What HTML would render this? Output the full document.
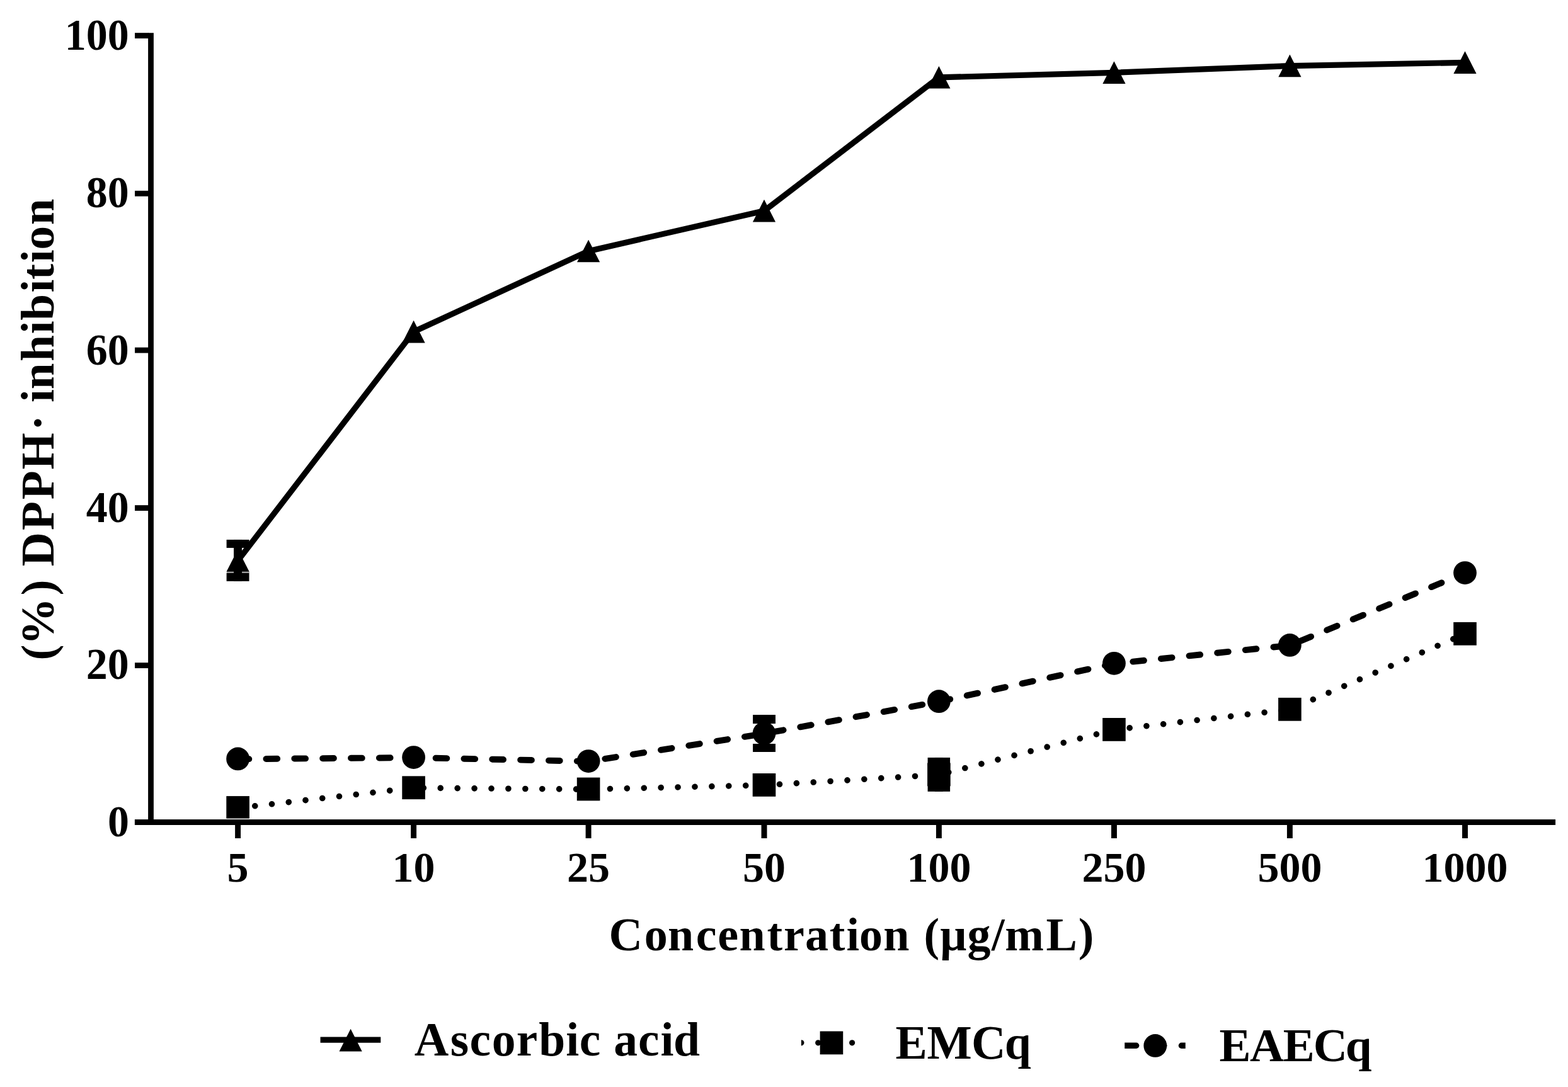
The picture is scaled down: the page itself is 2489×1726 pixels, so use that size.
<!DOCTYPE html>
<html lang="en"><head><meta charset="utf-8">
<title>DPPH inhibition chart</title>
<style>
html,body{margin:0;padding:0;background:#fff;}
body{width:2489px;height:1726px;overflow:hidden;}
svg{display:block;}
text{font-family:"Liberation Serif","DejaVu Serif",serif;font-weight:bold;fill:#000;}
.tk{font-size:68px;}
.ti{font-size:74px;}
.lg{font-size:75.5px;}
</style></head><body>
<svg width="2489" height="1726" viewBox="0 0 2489 1726">
<rect width="2489" height="1726" fill="#fff"/>
<g fill="#000">
<rect x="235.1" y="52.25" width="8.8" height="1257.75"/>
<rect x="213.9" y="1301.1" width="2255.2" height="8.9"/>
<rect x="214.05" y="1052.17" width="22.05" height="8.85"/>
<rect x="214.05" y="802.18" width="22.05" height="8.85"/>
<rect x="214.05" y="551.68" width="22.05" height="8.85"/>
<rect x="214.05" y="302.88" width="22.05" height="8.85"/>
<rect x="214.05" y="52.18" width="22.05" height="8.85"/>
<rect x="373.12" y="1309" width="8.95" height="22.05"/>
<rect x="652.12" y="1309" width="8.95" height="22.05"/>
<rect x="929.62" y="1309" width="8.95" height="22.05"/>
<rect x="1208.53" y="1309" width="8.95" height="22.05"/>
<rect x="1485.93" y="1309" width="8.95" height="22.05"/>
<rect x="1763.98" y="1309" width="8.95" height="22.05"/>
<rect x="2042.93" y="1309" width="8.95" height="22.05"/>
<rect x="2321.03" y="1309" width="8.95" height="22.05"/>
</g>
<g class="tk">
<text transform="translate(205.1 1328.45) scale(1 1.015)" text-anchor="end">0</text>
<text transform="translate(204.8 1078.4) scale(1 1.015)" text-anchor="end">20</text>
<text transform="translate(204.8 829.25) scale(1 1.015)" text-anchor="end">40</text>
<text transform="translate(204.8 578.75) scale(1 1.015)" text-anchor="end">60</text>
<text transform="translate(204.8 329.2) scale(1 1.015)" text-anchor="end">80</text>
<text transform="translate(204.8 78.9) scale(1 1.015)" text-anchor="end">100</text>
<text transform="translate(377.6 1400) scale(1 1.000)" text-anchor="middle">5</text>
<text transform="translate(656.6 1400) scale(1 1.000)" text-anchor="middle">10</text>
<text transform="translate(934.1 1400) scale(1 1.000)" text-anchor="middle">25</text>
<text transform="translate(1213 1400) scale(1 1.000)" text-anchor="middle">50</text>
<text transform="translate(1490.4 1400) scale(1 1.000)" text-anchor="middle">100</text>
<text transform="translate(1768.45 1400) scale(1 1.000)" text-anchor="middle">250</text>
<text transform="translate(2047.4 1400) scale(1 1.000)" text-anchor="middle">500</text>
<text transform="translate(2325.5 1400) scale(1 1.000)" text-anchor="middle">1000</text>
</g>
<text x="966.54 1022.65 1059.89 1104.66 1139.17 1173.49 1217.55 1243.93 1278.07 1316.7 1343.5 1364.1 1402.24 1443.39 1466.5 1492.1 1535.39 1574.03 1595.22 1660.54 1711.86" y="1508.8" style="font-size:74px">Concentration (µg/mL)</text>
<text transform="translate(84.6 0) rotate(-90)" x="-1048.53 -1024.13 -945.6 -920.62 -899.16 -841.89 -793.19 -745.39 -683.94 -658.93 -639.04 -618.2 -573.87 -530.29 -508.76 -464.39 -444.08 -417.29 -396.55 -357.15" y="0" style="font-size:75px">(%) DPPH· inhibition</text>
<g fill="none" stroke="#000" stroke-linejoin="round">
<polyline points="377.6,890.2 656.6,526.8 934.1,398.65 1213,334.8 1490.4,122.9 1768.45,115.3 2047.4,104.6 2325.5,99.3" stroke-width="9.2"/>
<polyline points="377.6,1205.3 656.6,1203 934.1,1208.97 1213,1164.9 1490.4,1114.1 1768.45,1053.7 2047.4,1024.8 2325.5,910" stroke-width="9.9" stroke-linecap="round" stroke-dasharray="17.7 27.16"/>
<polyline points="377.6,1282.85 656.6,1251.05 934.1,1253.3 1213,1246.7 1490.4,1230.2 1768.45,1158.7 2047.4,1126.6 2325.5,1006.6" stroke-width="9.6" stroke-linecap="round" stroke-dasharray="0.01 26.91" stroke-dashoffset="-0.4"/>
</g>
<g fill="#000">
<rect x="359.9" y="907.6" width="35.9" height="2.4" fill="#aaa"/>
<rect x="359.6" y="856.95" width="35.9" height="13"/><rect x="359.6" y="909.85" width="35.9" height="13"/><rect x="371.05" y="856.95" width="13" height="65.9"/>
<rect x="1195.1" y="1135.05" width="35.9" height="14"/><rect x="1195.1" y="1181" width="35.9" height="13"/><rect x="1206.55" y="1135.05" width="13" height="58.95"/>
<rect x="1472.6" y="1202.95" width="35.5" height="13"/><rect x="1472.6" y="1243.85" width="35.5" height="13"/><rect x="1483.85" y="1202.95" width="13" height="53.9"/>
<polygon points="377.6,872.2 395.7,907.8 359.5,907.8"/>
<polygon points="656.6,508.8 674.7,544.4 638.5,544.4"/>
<polygon points="934.1,380.65 952.2,416.25 916,416.25"/>
<polygon points="1213,316.8 1231.1,352.4 1194.9,352.4"/>
<polygon points="1490.4,104.9 1508.5,140.5 1472.3,140.5"/>
<polygon points="1768.45,97.3 1786.55,132.9 1750.35,132.9"/>
<polygon points="2047.4,86.6 2065.5,122.2 2029.3,122.2"/>
<polygon points="2325.5,81.3 2343.6,116.9 2307.4,116.9"/>
<rect x="359.3" y="1264.1" width="36.6" height="35.5"/>
<rect x="638.3" y="1232.35" width="36.6" height="36.8"/>
<rect x="915.8" y="1234.6" width="36.6" height="36.8"/>
<rect x="1194.7" y="1228" width="36.6" height="36.8"/>
<rect x="1472.1" y="1211.5" width="36.6" height="36.8"/>
<rect x="1750.15" y="1140" width="36.6" height="36.8"/>
<rect x="2029.1" y="1107.9" width="36.6" height="36.8"/>
<rect x="2307.2" y="987.9" width="36.6" height="36.8"/>
<circle cx="377.6" cy="1204.9" r="18.4"/>
<circle cx="656.6" cy="1202.6" r="18.4"/>
<circle cx="934.1" cy="1208.57" r="18.4"/>
<circle cx="1213" cy="1164.5" r="18.4"/>
<circle cx="1490.4" cy="1113.7" r="18.4"/>
<circle cx="1768.45" cy="1053.3" r="18.4"/>
<circle cx="2047.4" cy="1024.4" r="18.4"/>
<circle cx="2325.5" cy="909.6" r="18.4"/>
</g>
<g fill="none" stroke="#000">
<line x1="508.55" y1="1651.1" x2="604.3" y2="1651.1" stroke-width="9.3"/>
</g>
<g fill="#000">
<polygon points="556.6,1633.8 574.7,1669.4 538.5,1669.4"/>
<path d="M1271.9,1651.2 a4.6,4.6 0 0 1 0,9.2 z"/>
<circle cx="1298.7" cy="1655.8" r="4.6"/>
<circle cx="1352.6" cy="1655.8" r="4.6"/>
<rect x="1301.65" y="1637.5" width="36.6" height="36.8"/>
<path d="M1785.25,1655.5 h18.4 a4.7,4.7 0 0 1 0,9.4 h-18.4 z"/>
<path d="M1881.75,1655.5 h-6.3 a4.7,4.7 0 0 0 0,9.4 h6.3 z"/>
<rect x="1840" y="1655.5" width="12.5" height="9.4" rx="4.7"/>
<circle cx="1833.8" cy="1660.4" r="18.4"/>
</g>
<text x="657.7 714.64 745.54 780.67 819.84 855.16 898.34 919.69 953.21 974.28 1012.99 1048.59 1069.05" y="1675.9" style="font-size:75.5px">Ascorbic acid</text>
<text x="1421.55 1471.41 1541.97 1594.66" y="1680.85" style="font-size:75.5px">EMCq</text>
<text x="1935.52 1983.93 2036.82 2084.84 2135.7" y="1684.65" style="font-size:75px">EAECq</text>
</svg></body></html>
